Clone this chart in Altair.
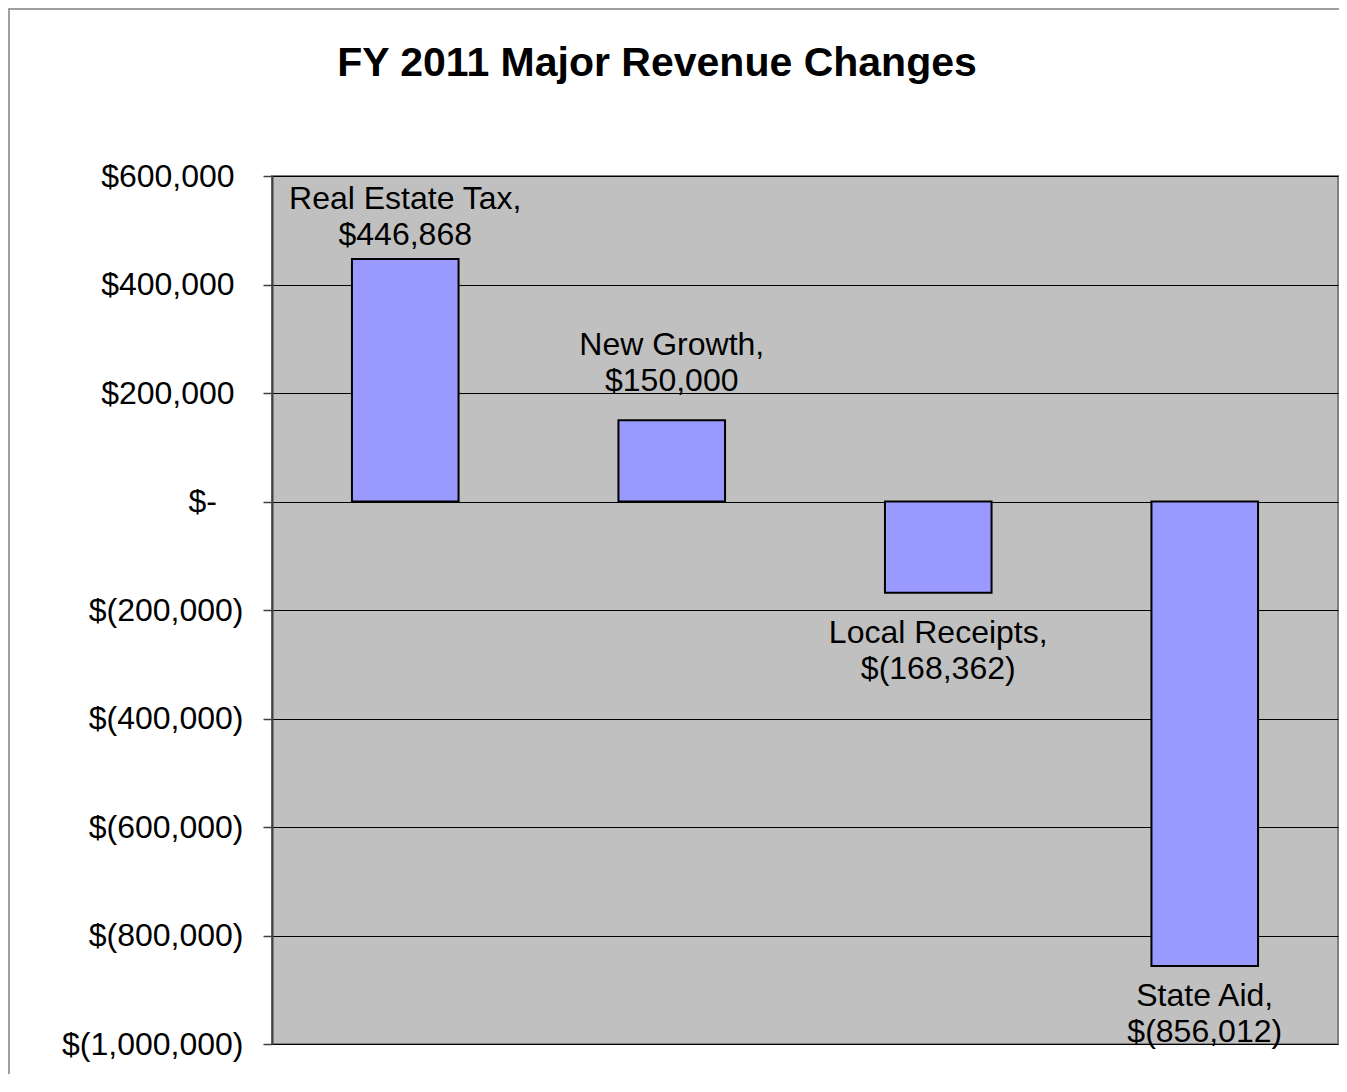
import altair as alt
import pandas as pd

categories = ["Real Estate Tax", "New Growth", "Local Receipts", "State Aid"]
values = [446868, 150000, -168362, -856012]
tick_values = [600000, 400000, 200000, 0, -200000, -400000, -600000, -800000, -1000000]


def money(v):
    if v == 0:
        return "$-"
    if v < 0:
        return "$(" + format(-v, ",") + ")"
    return "$" + format(v, ",")


df = pd.DataFrame({
    "category": categories,
    "value": values,
    "label": [c + ",\n" + money(v) for c, v in zip(categories, values)],
})

FONT = "Liberation Sans"
FS = 32

x_enc = alt.X("category:N", sort=categories, axis=None,
              scale=alt.Scale(paddingInner=0.6, paddingOuter=0.3))

y_scale = alt.Scale(domain=[-1000000, 600000], nice=False, zero=True)

# accounting-style labels: positive numbers keep room for the closing parenthesis
label_expr = (
    "datum.value == 0 ? '$-\u00a0\u00a0\u00a0\u200b' : "
    "(datum.value < 0 ? '$(' + format(-datum.value, ',') + ')' : '$' + format(datum.value, ',') + '\u00a0\u200b')"
)

y_enc = alt.Y(
    "value:Q",
    scale=y_scale,
    axis=alt.Axis(
        values=tick_values,
        title=None,
        labelExpr=label_expr,
        labelFontSize=FS,
        labelFont=FONT,
        labelColor="black",
        labelPadding=20,
        labelLimit=400,
        labelFlush=False,
        labelOverlap=False,
        tickSize=9,
        tickColor="#404040",
        tickWidth=1.5,
        domainColor="#404040",
        domainWidth=2,
        grid=True,
        gridColor="black",
        gridWidth=1,
    ),
)

base = alt.Chart(df)

bars = base.mark_bar(color="#9999FF", stroke="black", strokeWidth=2).encode(
    x=x_enc, y=y_enc
)

# data labels outside the bar end, kept inside the plot area (as the spreadsheet does)
pos_labels = base.transform_filter("datum.value >= 0").transform_calculate(
    ly="min(datum.value + 120000, 539000)"
).mark_text(
    baseline="alphabetic", lineBreak="\n", fontSize=FS, lineHeight=36,
    font=FONT, color="black", align="center"
).encode(x=x_enc, y=alt.Y("ly:Q", scale=y_scale), text="label:N")

neg_labels = base.transform_filter("datum.value < 0").transform_calculate(
    ly="max(datum.value - 92000, -930000)"
).mark_text(
    baseline="alphabetic", lineBreak="\n", fontSize=FS, lineHeight=36,
    font=FONT, color="black", align="center"
).encode(x=x_enc, y=alt.Y("ly:Q", scale=y_scale), text="label:N")

frame = alt.Chart(pd.DataFrame({"f": [0]})).mark_rect(
    fill=None, stroke="#808080", strokeWidth=1.5
).encode(
    x=alt.value(-263), x2=alt.value(1100), y=alt.value(-167), y2=alt.value(1100)
)

chart = alt.layer(frame, bars, pos_labels, neg_labels).properties(
    width=1066,
    height=868,
    title=alt.Title(
        "FY 2011 Major Revenue Changes",
        fontSize=41,
        fontWeight="bold",
        font=FONT,
        color="black",
        anchor="middle",
        frame="group",
        dx=-148,
        offset=-109,
        baseline="alphabetic",
    ),
    autosize=alt.AutoSizeParams(type="none"),
    padding={"left": 264, "top": 168, "right": 1, "bottom": 30},
    background="white",
).configure_view(
    fill="#C0C0C0", stroke="#808080", strokeWidth=2
)

chart.save("out.html", embed_options={"renderer": "svg", "actions": False})
